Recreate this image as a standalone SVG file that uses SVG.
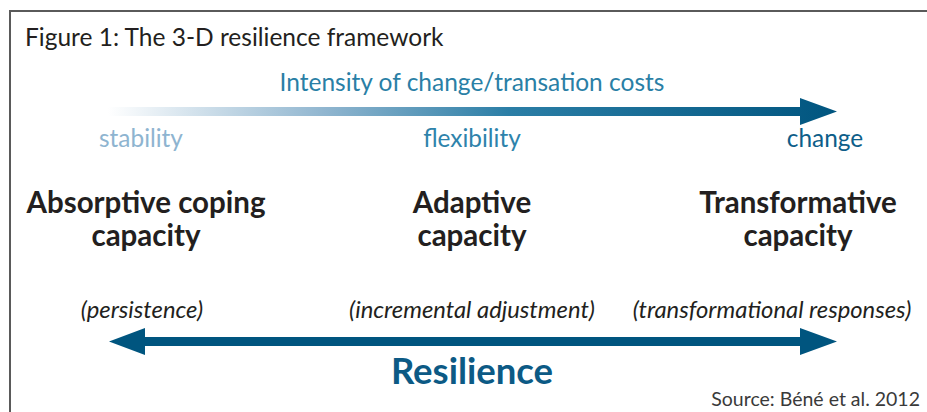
<svg xmlns="http://www.w3.org/2000/svg" width="927" height="412" viewBox="0 0 927 412">
  <style>
    text { font-family: Lato, "Open Sans", "Liberation Sans", sans-serif; }
    .title { font-size: 24.5px; fill: #231f20; }
    .axis { font-size: 24.5px; fill: #2a7fa6; }
    .level { font-size: 24.4px; }
    .cap { font-size: 29.5px; font-weight: bold; fill: #231f20; text-anchor: middle; }
    .resp { font-size: 23.8px; font-style: italic; fill: #231f20; text-anchor: middle; }
    .res { font-size: 36.5px; font-weight: bold; fill: #0c5a85; text-anchor: middle; }
    .src { font-size: 19.5px; fill: #3a3a3a; text-anchor: end; }
  </style>
  <defs>
    <linearGradient id="fade" x1="108" y1="0" x2="837" y2="0" gradientUnits="userSpaceOnUse">
      <stop offset="0" stop-color="#ffffff"/>
      <stop offset="0.3" stop-color="#8fb5cf"/>
      <stop offset="0.55" stop-color="#2b7ea6"/>
      <stop offset="1" stop-color="#00557f"/>
    </linearGradient>
  </defs>

  <!-- frame -->
  <rect x="10" y="11" width="930" height="420" fill="#ffffff" stroke="#5a5a5a" stroke-width="2"/>

  <text class="title" x="25" y="46">Figure 1: The 3-D resilience framework</text>

  <g id="connectors">
    <!-- intensity axis -->
    <path d="M108 107 H800 V98 L837 111.5 L800 125 V116 H108 Z" fill="url(#fade)"/>
    <!-- resilience double arrow -->
    <path d="M109 341.5 L145 328 V337 H800 V328 L837 341.5 L800 355 V346 H145 V355 Z" fill="#00557f"/>
  </g>

  <g id="axis-label">
    <text class="axis" x="472" y="91" text-anchor="middle">Intensity of change/transation costs</text>
  </g>

  <g id="absorptive">
    <text class="level" x="141" y="147" text-anchor="middle" fill="#8eb4d0">stability</text>
    <text class="cap" x="146" y="213">Absorptive coping</text>
    <text class="cap" x="146" y="246">capacity</text>
    <text class="resp" x="142" y="318">(persistence)</text>
  </g>

  <g id="adaptive">
    <text class="level" x="472" y="147" text-anchor="middle" fill="#2e83ab">flexibility</text>
    <text class="cap" x="472" y="213">Adaptive</text>
    <text class="cap" x="472" y="246">capacity</text>
    <text class="resp" x="472" y="318">(incremental adjustment)</text>
  </g>

  <g id="transformative">
    <text class="level" x="825" y="147" text-anchor="middle" fill="#0d5e89">change</text>
    <text class="cap" x="798" y="213">Transformative</text>
    <text class="cap" x="798" y="246">capacity</text>
    <text class="resp" x="772" y="318">(transformational responses)</text>
  </g>

  <g id="resilience">
    <text class="res" x="472" y="384">Resilience</text>
  </g>

  <text class="src" x="920" y="406">Source: Béné et al. 2012</text>
</svg>
